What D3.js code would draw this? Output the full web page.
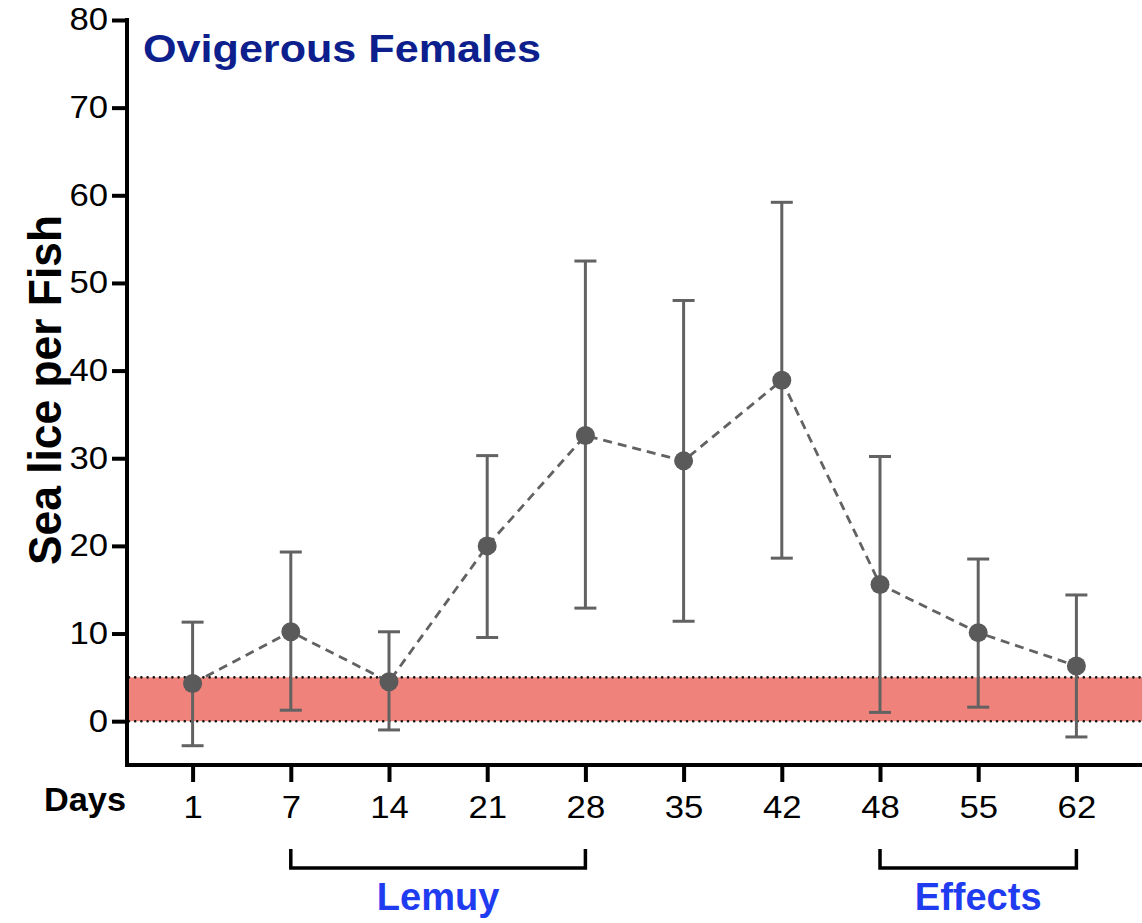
<!DOCTYPE html>
<html>
<head>
<meta charset="utf-8">
<script src="https://cdn.jsdelivr.net/npm/d3@7"></script>
<style>
  html, body { margin: 0; padding: 0; background: #fff; }
  svg { display: block; font-family: "Liberation Sans", Arial, Helvetica, sans-serif; }
</style>
</head>
<body>
<svg id="chart" width="1142" height="923"></svg>
<script>
// ---- data ----
const days = ["1", "7", "14", "21", "28", "35", "42", "48", "55", "62"];
const means = [4.3, 10.2, 4.5, 20.0, 32.6, 29.7, 38.9, 15.6, 10.1, 6.3];
const upper = [11.3, 19.3, 10.2, 30.3, 52.5, 48.0, 59.2, 30.2, 18.5, 14.4];
const lower = [-2.8, 1.25, -1.0, 9.55, 12.9, 11.4, 18.6, 1.0, 1.6, -1.8];
const yTicks = [0, 10, 20, 30, 40, 50, 60, 70, 80];
const band = [0, 5];
const brackets = [
  { label: "Lemuy", from: "7", to: "28" },
  { label: "Effects", from: "48", to: "62" }
];
const title = "Ovigerous Females";
const yLabel = "Sea lice per Fish";
const xLabel = "Days";

// ---- layout ----
const svg = d3.select("#chart");
const mLeft = 127, mRight = 1142, mTop = 20, mBottom = 765;

const x = d3.scalePoint().domain(days).range([mLeft, mRight]).padding(0.668);
const y = d3.scaleLinear().domain([-5, 80]).range([mBottom, mTop]);

const grey = "#626262";
const pointFill = "#5a5a5a";
const sx = 1.12;

// band
svg.append("rect")
  .attr("x", mLeft).attr("width", mRight - mLeft)
  .attr("y", y(band[1])).attr("height", y(band[0]) - y(band[1]))
  .attr("fill", "#ef827b");
band.forEach(v => {
  svg.append("line")
    .attr("x1", mLeft + 2).attr("x2", mRight)
    .attr("y1", y(v)).attr("y2", y(v))
    .attr("stroke", "#111").attr("stroke-width", 2.6)
    .attr("stroke-linecap", "round")
    .attr("stroke-dasharray", "0,6.2");
});

// error bars
const data = days.map((d, i) => ({ d, m: means[i], hi: upper[i], lo: lower[i] }));
const eb = svg.append("g").attr("stroke", grey).attr("stroke-width", 3).attr("fill", "none");
data.forEach(p => {
  const cx = x(p.d);
  eb.append("line").attr("x1", cx).attr("x2", cx).attr("y1", y(p.hi)).attr("y2", y(p.lo));
  eb.append("line").attr("x1", cx - 11).attr("x2", cx + 11).attr("y1", y(p.hi)).attr("y2", y(p.hi));
  eb.append("line").attr("x1", cx - 11).attr("x2", cx + 11).attr("y1", y(p.lo)).attr("y2", y(p.lo));
});

// dashed line
svg.append("path")
  .datum(data)
  .attr("fill", "none")
  .attr("stroke", grey)
  .attr("stroke-width", 2.8)
  .attr("stroke-dasharray", "9,6")
  .attr("d", d3.line().x(p => x(p.d)).y(p => y(p.m)));

// points
svg.append("g").selectAll("circle").data(data).join("circle")
  .attr("cx", p => x(p.d)).attr("cy", p => y(p.m)).attr("r", 9.5)
  .attr("fill", pointFill);

// y axis
const yAxisG = svg.append("g")
  .attr("transform", `translate(${mLeft},0)`)
  .call(d3.axisLeft(y).tickValues(yTicks).tickSize(15).tickPadding(6).tickSizeOuter(0));
yAxisG.select(".domain").attr("stroke", "#000").attr("stroke-width", 4)
  .attr("d", `M0,${mTop - 2}V${mBottom}`);
yAxisG.selectAll(".tick line").attr("stroke", "#000").attr("stroke-width", 4);
yAxisG.selectAll(".tick text")
  .attr("font-size", 31).attr("fill", "#000")
  .attr("font-family", "Liberation Sans, Arial, sans-serif")
  .attr("x", -19 / sx)
  .attr("transform", `scale(${sx},1)`);

// x axis
const xAxisG = svg.append("g")
  .attr("transform", `translate(0,${mBottom})`)
  .call(d3.axisBottom(x).tickSize(17).tickPadding(14).tickSizeOuter(0));
xAxisG.select(".domain").attr("stroke", "#000").attr("stroke-width", 4)
  .attr("d", `M${mLeft - 2},0H${mRight}`);
xAxisG.selectAll(".tick line").attr("stroke", "#000").attr("stroke-width", 4);
xAxisG.selectAll(".tick text")
  .attr("font-size", 31).attr("fill", "#000")
  .attr("font-family", "Liberation Sans, Arial, sans-serif")
  .attr("transform", `scale(${sx},1)`);

// Days label
svg.append("text")
  .attr("x", 126).attr("y", 811)
  .attr("text-anchor", "end")
  .attr("font-size", 33).attr("font-weight", "bold").attr("fill", "#000")
  .attr("textLength", 82).attr("lengthAdjust", "spacingAndGlyphs")
  .text(xLabel);

// title
svg.append("text")
  .attr("x", 143).attr("y", 62)
  .attr("font-size", 38).attr("font-weight", "bold").attr("fill", "#0d1f8c")
  .attr("textLength", 398).attr("lengthAdjust", "spacingAndGlyphs")
  .text(title);

// y label
svg.append("text")
  .attr("transform", "translate(61,390) rotate(-90)")
  .attr("text-anchor", "middle")
  .attr("font-size", 46).attr("font-weight", "bold").attr("fill", "#000")
  .attr("textLength", 350).attr("lengthAdjust", "spacingAndGlyphs")
  .text(yLabel);

// brackets
const bracketY = 868, bracketTop = 849;
brackets.forEach(b => {
  const x1 = x(b.from), x2 = x(b.to);
  svg.append("path")
    .attr("d", `M${x1},${bracketTop}V${bracketY}H${x2}V${bracketTop}`)
    .attr("fill", "none").attr("stroke", "#000").attr("stroke-width", 3.5);
  svg.append("text")
    .attr("x", (x1 + x2) / 2).attr("y", 910)
    .attr("text-anchor", "middle")
    .attr("font-size", 38).attr("font-weight", "bold").attr("fill", "#1f3cf0")
    .text(b.label);
});
</script>
</body>
</html>
